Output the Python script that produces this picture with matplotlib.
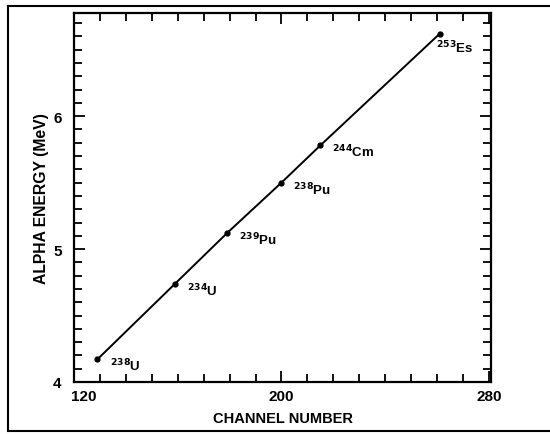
import numpy as np
import matplotlib.pyplot as plt
import matplotlib.transforms as mtransforms
from matplotlib.ticker import MultipleLocator, FixedLocator

# Calibration points
isotopes = [r'$^{238}$U', r'$^{234}$U', r'$^{239}$Pu', r'$^{238}$Pu', r'$^{244}$Cm', r'$^{253}$Es']
channel = [129, 159, 179, 200, 215, 261]
energy = [4.17, 4.74, 5.12, 5.50, 5.78, 6.62]
x_labels = [120, 200, 280]
y_labels = [4, 5, 6]

plt.rcParams['font.family'] = ['Liberation Sans Narrow', 'Liberation Sans', 'DejaVu Sans']
plt.rcParams['mathtext.fontset'] = 'custom'
plt.rcParams['mathtext.rm'] = 'Liberation Sans Narrow:bold'

fig = plt.figure(figsize=(5.5, 4.35), dpi=100)
ax = fig.add_axes([74 / 550, 1 - 383 / 435, (491.5 - 74) / 550, (383 - 13.5) / 435])

# Outer frame of the scanned figure (no right edge)
for xs, ys in [([8, 8], [3, 428]), ([8, 550], [428, 428]), ([8, 550], [3, 3])]:
    fig.add_artist(plt.Line2D([v / 550 for v in xs], [v / 435 for v in ys],
                              color='k', lw=1.5, transform=fig.transFigure))

ax.plot(channel, energy, color='k', lw=1.4, marker='o', ms=3.5)

# Isotope labels, offset in pixels from each point
offsets = [(13, -6), (12, -6), (12, -6), (12, -6), (12, -6), (-4, -13)]
for name, cx, ey, off in zip(isotopes, channel, energy, offsets):
    ax.annotate(name, (cx, ey), xytext=off, textcoords='offset pixels',
                fontsize=9.5, fontweight='bold', ha='left', va='center')

ax.set_xlim(120, 281)
ax.set_ylim(4, 6.78)
ax.xaxis.set_major_locator(FixedLocator(x_labels))
ax.xaxis.set_minor_locator(MultipleLocator(10))
ax.yaxis.set_major_locator(FixedLocator(y_labels))
ax.yaxis.set_minor_locator(MultipleLocator(0.1))
ax.tick_params(which='both', direction='in', top=True, right=True, width=1.3,
               labelsize=11)
ax.tick_params(which='major', length=8)
ax.tick_params(which='minor', length=6)
ax.tick_params(axis='y', pad=9)
ax.tick_params(axis='x', pad=5)
for lab in ax.get_xticklabels() + ax.get_yticklabels():
    lab.set_fontweight('bold')
for sp in ax.spines.values():
    sp.set_linewidth(1.6)

# the "120" label sits a little right of the axis corner in the original
fig.canvas.draw()
first = ax.get_xticklabels()[0]
first.set_transform(first.get_transform() +
                    mtransforms.ScaledTranslation(10 / 100, 0, fig.dpi_scale_trans))

ax.set_xlabel('CHANNEL NUMBER', fontsize=10.5, fontweight='bold', labelpad=6)
ax.set_ylabel('ALPHA ENERGY (MeV)', fontsize=11.3, fontweight='bold', labelpad=3)

fig.savefig('out.png', dpi=100, facecolor='white')
